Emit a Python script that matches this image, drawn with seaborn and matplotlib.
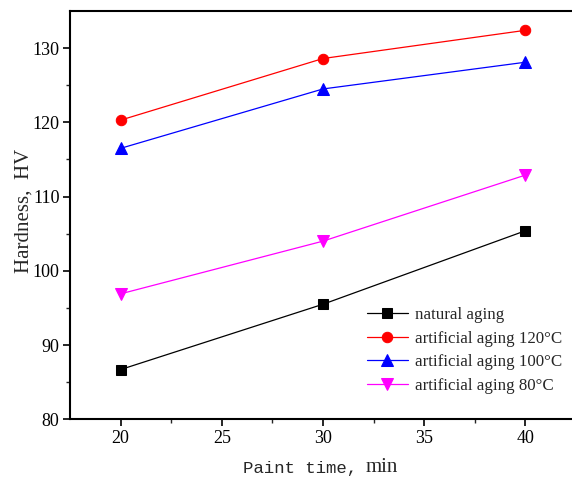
import numpy as np
import pandas as pd
import matplotlib
matplotlib.use('Agg')
import matplotlib.pyplot as plt
import seaborn as sns
from matplotlib.ticker import MultipleLocator, FixedLocator

# Data
paint_time = [20, 30, 40]
natural = [86.7, 95.5, 105.4]
art_120 = [120.3, 128.6, 132.4]
art_100 = [116.5, 124.5, 128.1]
art_80 = [96.9, 104.0, 112.9]

labels = ['natural aging', 'artificial aging 120\u00b0C',
          'artificial aging 100\u00b0C', 'artificial aging 80\u00b0C']
colors = ['black', 'red', 'blue', 'magenta']
markers = ['s', 'o', '^', 'v']
msizes = [7, 7.5, 8, 8]

sns.set_style('ticks')
plt.rcParams['font.family'] = ['Liberation Serif', 'DejaVu Serif']

fig = plt.figure(figsize=(5.72, 4.79), dpi=100)
ax = fig.add_axes([70 / 572, 1 - 419.3 / 479, 1 - 70 / 572, (419.3 - 11) / 479])

for vals, lab, c, m, ms in zip([natural, art_120, art_100, art_80], labels, colors, markers, msizes):
    df = pd.DataFrame({'t': paint_time, 'h': vals})
    sns.lineplot(data=df, x='t', y='h', ax=ax, color=c, marker=m, markersize=ms,
                 markeredgecolor=c, linewidth=0.9, label=lab)

ax.set_xlim(17.5, 42.3)
ax.set_ylim(80, 135)
ax.xaxis.set_major_locator(MultipleLocator(5))
ax.xaxis.set_minor_locator(FixedLocator([22.5, 27.5, 32.5, 37.5]))
ax.yaxis.set_major_locator(MultipleLocator(10))
ax.yaxis.set_minor_locator(FixedLocator([85, 95, 105, 115, 125]))
ax.tick_params(which='major', direction='out', length=5, width=1.2, labelsize=13,
               colors='black', pad=2.5)
ax.tick_params(which='minor', direction='out', length=3, width=1.0)
for s in ['left', 'bottom', 'top']:
    ax.spines[s].set_linewidth(1.5)
    ax.spines[s].set_color('black')
ax.spines['right'].set_visible(False)

ax.set_xlabel('')
ax.set_ylabel('Hardness,  HV', fontsize=15)
ax.yaxis.set_label_coords(-0.072, 0.51)

# x label: mixed fonts as in the reference
fig.text(357 / 572, 1 - 468 / 479, 'Paint time,', fontsize=12.5, family='Liberation Mono',
         ha='right', va='center')
fig.text(366 / 572, 1 - 468 / 479, 'min', fontsize=15, ha='left', va='center')

leg = ax.legend(loc='lower right', bbox_to_anchor=(1.01, 0.025), frameon=False,
                fontsize=12.2, handlelength=2.4, labelspacing=0.45, handletextpad=0.4)

fig.savefig('out.png', dpi=100)
